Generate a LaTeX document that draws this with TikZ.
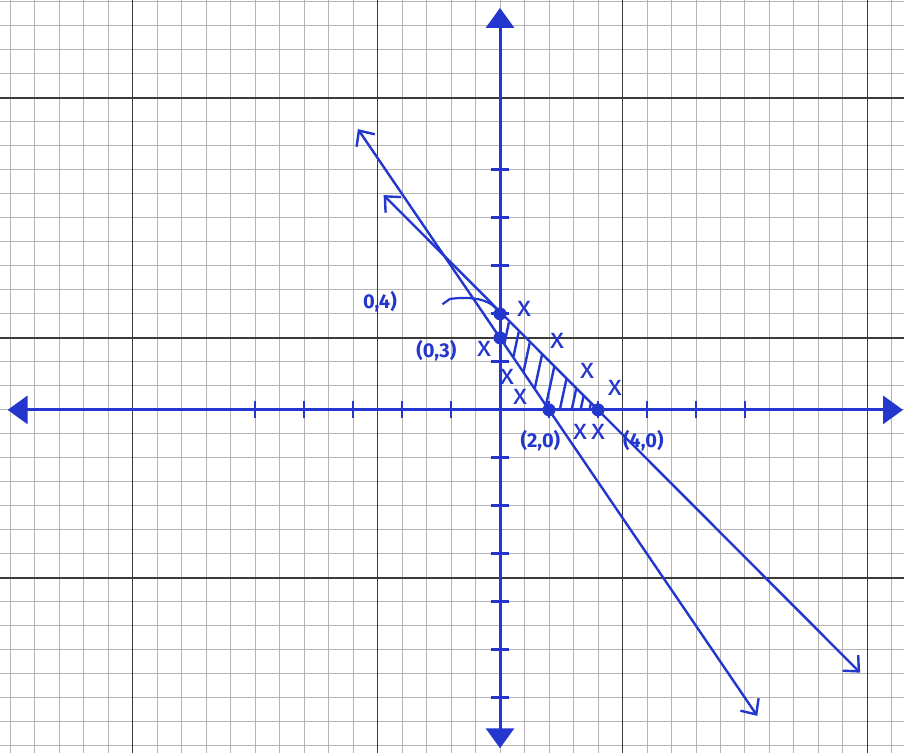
\documentclass[tikz,border=0pt]{standalone}
\usepackage{fontspec}
\setsansfont{Fira Sans}
\usepackage{tikz}
\usetikzlibrary{arrows.meta,positioning,calc}
\definecolor{cPen}{HTML}{2336CE}
\definecolor{cGrid}{HTML}{B4B4B4}
\definecolor{cGridDark}{HTML}{3A3A3A}

\begin{document}
\begin{tikzpicture}[
  x=12.25pt, y=12pt,
  minor/.style={cGrid, line width=0.5pt},
  major/.style={cGridDark, line width=0.9pt},
  axis/.style={cPen, line width=1.5pt,
    {Triangle[length=10pt,width=14pt]}-{Triangle[length=10pt,width=14pt]}},
  bound/.style={cPen, line width=1.2pt,
    {Straight Barb[length=6pt,width=11pt,line width=1.2pt]}-{Straight Barb[length=6pt,width=11pt,line width=1.2pt]}},
  tickmark/.style={cPen, line width=1.4pt},
  dot/.style={circle, fill=cPen, inner sep=0pt, minimum size=6.5pt},
  lbl/.style={text=cPen, font=\sffamily\bfseries},
  chk/.style={text=cPen, font=\sffamily\Large, inner sep=0pt},
  hatch/.style={cPen, line width=1.2pt},
  leader/.style={cPen, line width=1.1pt},
]
\useasboundingbox (-20.41,-14.29) rectangle (16.49,17.08);
\clip (-20.41,-14.29) rectangle (16.49,17.08);
\fill[white] (-20.41,-14.29) rectangle (16.49,17.08);

% graph paper
\foreach \i in {-21,...,17} \draw[minor] (\i,-15) -- (\i,18);
\foreach \j in {-15,...,18} \draw[minor] (-21,\j) -- (17,\j);
\foreach \i in {-15,-5,5,15} \draw[major] (\i,-15) -- (\i,18);
\foreach \j in {-7,3,13} \draw[major] (-21,\j) -- (17,\j);

% axes
\coordinate (xl) at (-20.1,0);
\coordinate (xr) at (16.45,0);
\coordinate (yt) at (0,16.75);
\coordinate (yb) at (0,-14.1);
\draw[axis] (xl) -- (xr);
\draw[axis] (yt) -- (yb);
\foreach \i in {-10,-8,...,-2,2,4,...,10} \draw[tickmark] (\i,-0.35) -- (\i,0.35);
\foreach \j in {-12,-10,...,-2,2,4,...,10} \draw[tickmark] (-0.35,\j) -- (0.35,\j);

% shaded region
\begin{scope}
  \clip (0,4) -- (4,0) -- (2,0) -- (0,3) -- cycle;
  \foreach \a in {0.35,0.75,1.2,1.7,2.2,2.7,3.1,3.4,3.7}
    \draw[hatch] (\a+0.1,4.4-\a) -- (\a-0.45,1.8-\a);
\end{scope}

% boundary lines
\coordinate (sA) at (-5.8,11.7);
\coordinate (sB) at (10.5,-12.75);
\coordinate (tA) at (-4.75,8.95);
\coordinate (tB) at (14.7,-10.95);
\draw[bound] (sA) -- (sB);
\draw[bound] (tA) -- (tB);

% intercepts
\node[dot] (p04) at (0,4) {};
\node[dot] (p03) at (0,3) {};
\node[dot] (p20) at (2,0) {};
\node[dot] (p40) at (4,0) {};

\node[lbl] (l04) at (-4.9,4.5) {0,4)};
\node[lbl] (l03) at (-2.6,2.45) {(0,3)};
\node[lbl] (l20) at (1.65,-1.3) {(2,0)};
\node[lbl] (l40) at (5.85,-1.3) {(4,0)};

\coordinate (hk) at (-2.35,4.4);
\draw[leader] (hk) -- ++(0.3,0.22) .. controls (-1.2,4.75) and (-0.45,4.6) .. (p04);

% test points
\foreach \p [count=\k] in {(0.98,4.2),(2.33,2.88),(3.55,1.63),(4.69,0.92),
    (-0.65,2.55),(0.29,1.38),(0.82,0.54),(3.27,-0.92),(4.0,-0.92)}
  \node[chk] (x\k) at \p {x};
\end{tikzpicture}
\end{document}
